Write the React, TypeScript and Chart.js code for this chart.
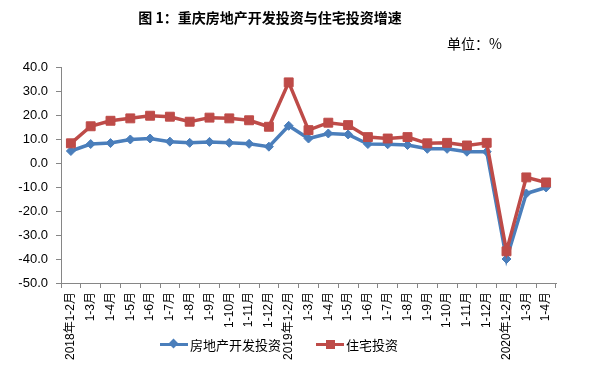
import React, { useEffect, useRef } from "react";
import { Chart, registerables } from "chart.js";

Chart.register(...registerables);

const categories: string[] = [
  "2018年1-2月", "1-3月", "1-4月", "1-5月", "1-6月", "1-7月", "1-8月", "1-9月", "1-10月", "1-11月", "1-12月",
  "2019年1-2月", "1-3月", "1-4月", "1-5月", "1-6月", "1-7月", "1-8月", "1-9月", "1-10月", "1-11月", "1-12月",
  "2020年1-2月", "1-3月", "1-4月",
];

const realEstateInvestment: number[] = [
  5.0, 7.9, 8.3, 9.8, 10.2, 8.9, 8.4, 8.8, 8.4, 8.0, 6.8,
  15.5, 10.2, 12.3, 11.9, 7.9, 7.8, 7.5, 5.9, 5.9, 4.7, 4.7,
  -40.0, -12.7, -10.2,
];

const residentialInvestment: number[] = [
  8.2, 15.3, 17.6, 18.6, 19.7, 19.3, 17.2, 18.9, 18.6, 17.8, 15.1,
  33.6, 13.7, 16.8, 15.8, 10.8, 10.2, 10.8, 8.2, 8.4, 7.3, 8.4,
  -36.8, -6.0, -8.1,
];

const seriesNames: string[] = ["房地产开发投资", "住宅投资"];
const titleText = "图 1：重庆房地产开发投资与住宅投资增速";
const unitText = "单位：%";

const BLUE = "#4A7EBB";
const RED = "#BE4B48";
const AXIS = "#868686";
const FONT = "'Liberation Sans', 'Noto Sans CJK SC', sans-serif";

export default function App() {
  const ref = useRef<HTMLCanvasElement | null>(null);

  useEffect(() => {
    if (!ref.current) return;
    const chart = new Chart(ref.current, {
      type: "line",
      data: {
        labels: categories,
        datasets: [
          {
            label: seriesNames[0],
            data: realEstateInvestment,
            borderColor: BLUE,
            backgroundColor: BLUE,
            pointBackgroundColor: BLUE,
            pointBorderColor: BLUE,
            pointStyle: "rectRot",
            pointRadius: 4.5,
            pointBorderWidth: 1,
            borderWidth: 3.5,
            tension: 0,
            order: 1,
          },
          {
            label: seriesNames[1],
            data: residentialInvestment,
            borderColor: RED,
            backgroundColor: RED,
            pointBackgroundColor: RED,
            pointBorderColor: RED,
            pointStyle: "rect",
            pointRadius: 6.3,
            pointBorderWidth: 1,
            borderWidth: 3.5,
            tension: 0,
            order: 0,
          },
        ],
      },
      options: {
        animation: false,
        responsive: false,
        maintainAspectRatio: false,
        layout: { padding: { top: 67, right: 38, bottom: 0, left: 0 } },
        plugins: {
          legend: { display: false },
          title: { display: false },
          tooltip: { enabled: false },
        },
        scales: {
          x: {
            type: "category",
            offset: true,
            grid: {
              offset: true,
              drawOnChartArea: false,
              drawTicks: true,
              tickLength: 5,
              color: AXIS,
            },
            border: { display: true, color: AXIS, width: 1 },
            ticks: {
              autoSkip: false,
              maxRotation: 90,
              minRotation: 90,
              padding: 4,
              color: "#000",
              font: { family: FONT, size: 12 },
            },
            afterFit: (scale: any) => {
              scale.height = 99;
            },
          },
          y: {
            min: -50,
            max: 40,
            grid: {
              drawOnChartArea: false,
              drawTicks: true,
              tickLength: 5,
              color: AXIS,
            },
            border: { display: true, color: AXIS, width: 1 },
            ticks: {
              stepSize: 10,
              padding: 8,
              color: "#000",
              font: { family: FONT, size: 13 },
              callback: (v: any) => Number(v).toFixed(1),
            },
            afterFit: (scale: any) => {
              scale.width = 61;
            },
          },
        },
      },
    });
    return () => chart.destroy();
  }, []);

  const legendText: React.CSSProperties = {
    position: "absolute",
    top: 336,
    fontFamily: "'Noto Sans CJK SC', sans-serif",
    fontSize: 13,
    lineHeight: "18px",
    color: "#000",
    whiteSpace: "nowrap",
  };

  return (
    <div style={{ position: "fixed", left: 0, top: 0, width: 594, height: 382, background: "#fff" }}>
      <canvas ref={ref} width={594} height={382} style={{ position: "absolute", left: 0, top: 0, width: 594, height: 382 }} />
      <div
        style={{
          position: "absolute",
          left: 0,
          width: 540,
          top: 7,
          textAlign: "center",
          fontFamily: "'Noto Sans CJK SC', sans-serif",
          fontWeight: 700,
          fontSize: 14,
          lineHeight: "20px",
          color: "#000",
          whiteSpace: "nowrap",
        }}
      >
        {titleText}
      </div>
      <div
        style={{
          position: "absolute",
          left: 447,
          top: 34,
          fontFamily: "'Noto Sans CJK SC', sans-serif",
          fontSize: 14,
          lineHeight: "18px",
          color: "#000",
          whiteSpace: "nowrap",
        }}
      >
        {unitText}
      </div>
      {/* legend */}
      <div style={{ position: "absolute", left: 160, top: 343, width: 28, height: 3, background: BLUE }} />
      <div style={{ position: "absolute", left: 170, top: 340, width: 7, height: 7, background: BLUE, transform: "rotate(45deg)" }} />
      <div style={{ ...legendText, left: 190 }}>{seriesNames[0]}</div>
      <div style={{ position: "absolute", left: 316, top: 343, width: 28, height: 3, background: RED }} />
      <div style={{ position: "absolute", left: 326, top: 340, width: 9, height: 9, background: RED }} />
      <div style={{ ...legendText, left: 346 }}>{seriesNames[1]}</div>
    </div>
  );
}
